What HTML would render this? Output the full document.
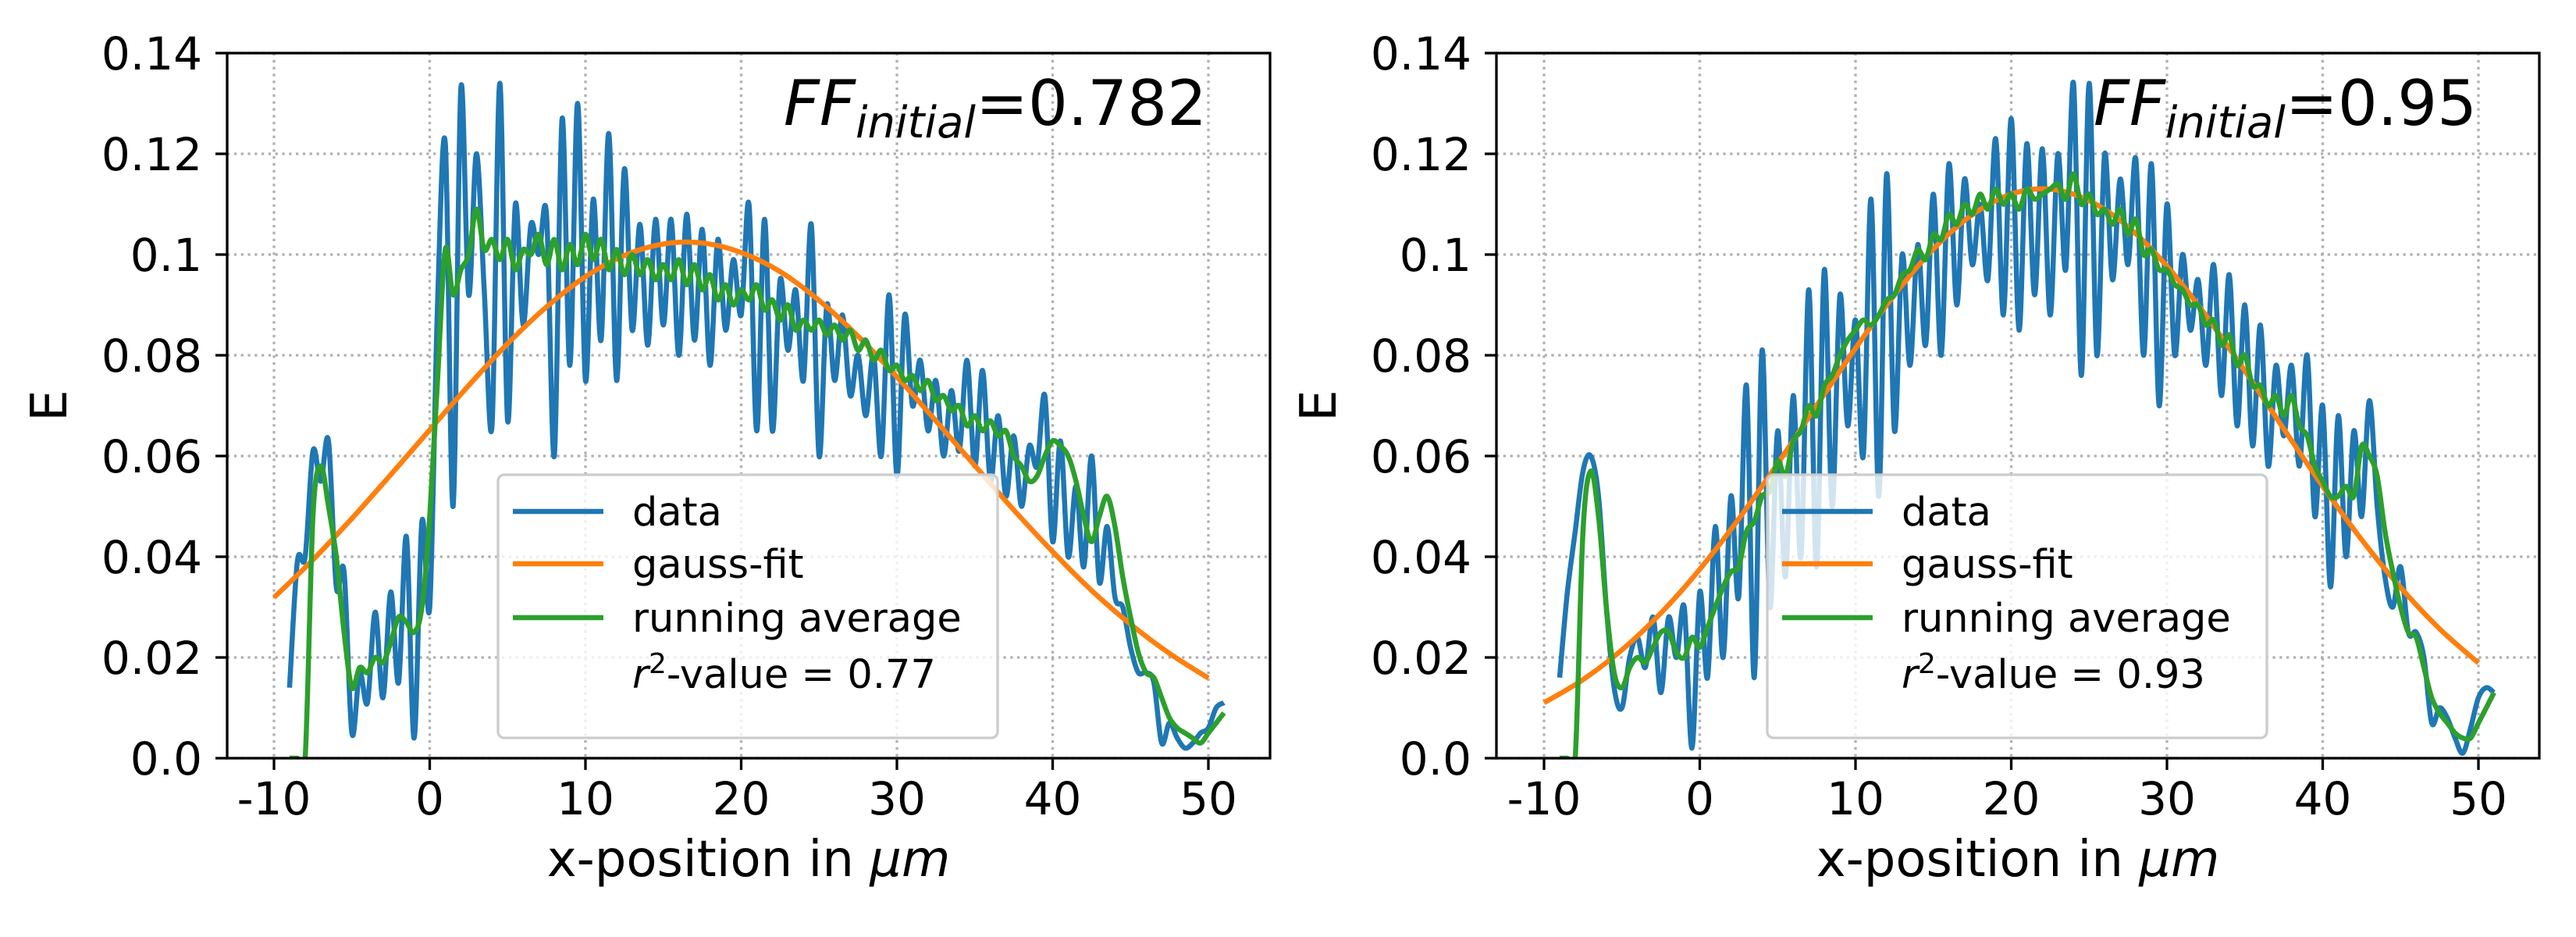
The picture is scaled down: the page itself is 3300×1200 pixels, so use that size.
<!DOCTYPE html>
<html><head><meta charset="utf-8"><style>
html,body{margin:0;padding:0;background:#fff;}
svg{display:block;font-family:"DejaVu Sans","Liberation Sans",sans-serif;}
</style></head>
<body>
<svg id="chart" width="3300" height="1200" viewBox="0 0 3300 1200" xmlns="http://www.w3.org/2000/svg"></svg>
<script>
// ---- data ----
const xTickValues = [-10, 0, 10, 20, 30, 40, 50];
const xTickLabels = ["-10", "0", "10", "20", "30", "40", "50"];
const yTickValues = [0, 0.02, 0.04, 0.06, 0.08, 0.1, 0.12, 0.14];
const yTickLabels = ["0.0", "0.02", "0.04", "0.06", "0.08", "0.1", "0.12", "0.14"];
const sampleStart = -9, sampleStep = 0.5;
const fitStart = -10, fitStep = 2.5;

const leftData = [.014,.039,.040,.061,.055,.063,.034,.037,.005,.017,.011,.029,.012,.033,.015,.044,.004,.047,.030,.090,.122,.050,.133,.092,.120,.093,.066,.134,.067,.110,.086,.106,.100,.108,.060,.127,.078,.130,.075,.111,.083,.124,.075,.117,.085,.106,.082,.107,.086,.107,.080,.108,.083,.105,.078,.103,.085,.099,.088,.110,.065,.107,.065,.095,.081,.093,.075,.106,.060,.090,.075,.088,.072,.080,.068,.080,.060,.092,.056,.088,.070,.079,.065,.075,.060,.073,.061,.079,.058,.077,.055,.068,.052,.064,.050,.062,.058,.072,.043,.063,.040,.054,.038,.060,.035,.046,.032,.030,.022,.017,.017,.015,.003,.007,.004,.002,.003,.005,.006,.010,.011];
const leftAvg = [0,0,0,.048,.058,.050,.040,.025,.014,.018,.017,.020,.019,.023,.028,.027,.025,.030,.048,.075,.101,.092,.097,.100,.109,.101,.103,.099,.103,.097,.101,.100,.104,.098,.103,.097,.102,.098,.104,.099,.103,.097,.101,.096,.100,.096,.099,.095,.098,.095,.099,.094,.098,.093,.096,.091,.094,.090,.093,.091,.094,.089,.091,.087,.090,.085,.087,.085,.087,.084,.086,.083,.085,.081,.083,.079,.081,.077,.078,.075,.076,.073,.075,.071,.072,.069,.070,.066,.068,.065,.067,.064,.065,.060,.058,.055,.056,.060,.063,.062,.060,.055,.048,.043,.048,.052,.046,.036,.028,.021,.017,.016,.012,.008,.006,.005,.004,.003,.005,.007,.009];
const leftFit = [.0319,.0394,.0476,.0563,.0652,.0740,.0823,.0896,.0956,.0998,.1021,.1023,.1004,.0966,.0909,.0838,.0757,.0670,.0581,.0493,.0410,.0333,.0266,.0208,.0159];

const rightData = [.016,.033,.045,.057,.060,.052,.030,.014,.010,.020,.024,.018,.028,.013,.028,.020,.030,.002,.033,.016,.046,.020,.052,.032,.074,.016,.081,.030,.065,.036,.072,.040,.093,.038,.097,.050,.092,.066,.087,.060,.111,.052,.116,.065,.100,.078,.102,.082,.112,.080,.118,.090,.115,.098,.110,.095,.123,.088,.127,.085,.122,.092,.121,.088,.120,.097,.134,.076,.134,.080,.120,.095,.115,.098,.119,.080,.118,.070,.110,.080,.100,.085,.095,.078,.098,.072,.096,.066,.090,.062,.086,.058,.078,.064,.078,.058,.080,.048,.070,.034,.068,.040,.065,.048,.071,.050,.036,.030,.038,.025,.025,.020,.007,.010,.008,.004,.001,.006,.012,.014,.013];
const rightAvg = [0,0,0,.045,.057,.048,.030,.017,.014,.018,.020,.019,.022,.025,.025,.021,.020,.024,.022,.026,.030,.034,.037,.038,.045,.047,.052,.053,.059,.056,.063,.065,.070,.068,.074,.076,.080,.083,.085,.087,.086,.088,.091,.092,.096,.097,.101,.099,.104,.103,.108,.106,.110,.108,.112,.109,.113,.110,.112,.109,.113,.111,.112,.113,.114,.111,.116,.110,.112,.108,.109,.106,.109,.104,.107,.100,.101,.097,.097,.094,.093,.090,.090,.086,.087,.082,.084,.078,.080,.074,.074,.070,.072,.068,.072,.066,.064,.058,.055,.052,.052,.054,.052,.062,.060,.056,.045,.037,.030,.025,.024,.018,.012,.009,.007,.005,.004,.004,.007,.010,.013];
const rightFit = [.0110,.0156,.0215,.0288,.0375,.0475,.0585,.0700,.0814,.0920,.1011,.1079,.1120,.1130,.1107,.1055,.0977,.0879,.0769,.0654,.0540,.0434,.0339,.0257,.0189];

const ffLabels = ["0.782", "0.95"];
const r2Labels = ["0.77", "0.93"];

// ---- layout ----
const NS = "http://www.w3.org/2000/svg";
const svg = document.getElementById("chart");
const panels = [
  {left:291, right:1627, x0:351, legendX:638, name:"left"},
  {left:1917, right:3253, x0:1978, legendX:2264, name:"right"}
];
const TOP = 68, BOTTOM = 971, PXU = 19.95;
const C = {data:"#1f77b4", fit:"#ff7f0e", avg:"#2ca02c"};

function el(tag, attrs, parent){
  const e = document.createElementNS(NS, tag);
  for (const k in attrs) e.setAttribute(k, attrs[k]);
  (parent || svg).appendChild(e);
  return e;
}
function sy(v){ return BOTTOM - v / 0.14 * (BOTTOM - TOP); }
function smoothPath(pts){
  let d = "M" + pts[0][0].toFixed(1) + "," + pts[0][1].toFixed(1);
  for (let i = 0; i < pts.length - 1; i++){
    const p0 = pts[Math.max(0,i-1)], p1 = pts[i], p2 = pts[i+1], p3 = pts[Math.min(pts.length-1,i+2)];
    const c1x = p1[0] + (p2[0]-p0[0])/6, c1y = p1[1] + (p2[1]-p0[1])/6;
    const c2x = p2[0] - (p3[0]-p1[0])/6, c2y = p2[1] - (p3[1]-p1[1])/6;
    d += "C" + c1x.toFixed(1)+","+c1y.toFixed(1)+" "+c2x.toFixed(1)+","+c2y.toFixed(1)+" "+p2[0].toFixed(1)+","+p2[1].toFixed(1);
  }
  return d;
}

const datasets = [
  {data:leftData, avg:leftAvg, fit:leftFit},
  {data:rightData, avg:rightAvg, fit:rightFit}
];

panels.forEach((P, pi) => {
  const sx = v => P.x0 + (v + 10) * PXU;
  const g = el("g", {});
  
  
  const clipId = "clip" + pi;
  const cp = el("clipPath", {id:clipId}, g);
  el("rect", {x:P.left, y:TOP, width:P.right-P.left, height:BOTTOM-TOP}, cp);

  xTickValues.forEach(v => {
    const l = el("line", {x1:sx(v), x2:sx(v), y1:TOP, y2:BOTTOM, stroke:"#b0b0b0", "stroke-width":3.3, "stroke-dasharray":"3.3,5.5"}, g);
    
    
  });
  yTickValues.forEach(v => {
    const l = el("line", {x1:P.left, x2:P.right, y1:sy(v), y2:sy(v), stroke:"#b0b0b0", "stroke-width":3.3, "stroke-dasharray":"3.3,5.5"}, g);
    
    
  });

  const D = datasets[pi];
  const series = [
    {arr:D.data, start:sampleStart, step:sampleStep, color:C.data, name:"data-line"},
    {arr:D.fit, start:fitStart, step:fitStep, color:C.fit, name:"gauss-fit-line"},
    {arr:D.avg, start:sampleStart, step:sampleStep, color:C.avg, name:"running-average-line"}
  ];
  series.forEach(s => {
    const pts = s.arr.map((v, i) => [sx(s.start + i * s.step), sy(v)]);
    const p = el("path", {d:smoothPath(pts), fill:"none", stroke:s.color, "stroke-width":6.5, "stroke-linejoin":"round", "clip-path":"url(#"+clipId+")"}, g);
    
    
  });

  const sp = el("rect", {x:P.left, y:TOP, width:P.right-P.left, height:BOTTOM-TOP, fill:"none", stroke:"#000", "stroke-width":3.3}, g);
  
  

  xTickValues.forEach((v, i) => {
    el("line", {x1:sx(v), x2:sx(v), y1:BOTTOM, y2:BOTTOM+15, stroke:"#000", "stroke-width":3.3}, g);
    const t = el("text", {x:sx(v), y:BOTTOM+72, "font-size":58, "text-anchor":"middle"}, g);
    t.textContent = xTickLabels[i];
    
    
  });
  yTickValues.forEach((v, i) => {
    el("line", {x1:P.left-15, x2:P.left, y1:sy(v), y2:sy(v), stroke:"#000", "stroke-width":3.3}, g);
    const t = el("text", {x:P.left-32, y:sy(v)+21, "font-size":58, "text-anchor":"end"}, g);
    t.textContent = yTickLabels[i];
    
    
  });

  const xl = el("text", {x:(P.left+P.right)/2, y:1122, "font-size":64, "text-anchor":"middle"}, g);
  xl.innerHTML = 'x-position in <tspan font-style="italic">μm</tspan>';
  
  
  const yx = P.left - 206;
  const yl = el("text", {x:yx, y:(TOP+BOTTOM)/2, "font-size":64, "text-anchor":"middle", transform:"rotate(-90 "+yx+" "+((TOP+BOTTOM)/2)+")"}, g);
  yl.textContent = "E";
  
  

  const ff = el("text", {x:sx(50)-2, y:160, "font-size":80, "text-anchor":"end"}, g);
  ff.innerHTML = '<tspan font-style="italic">FF</tspan><tspan font-style="italic" font-size="56" dy="16">initial</tspan><tspan dy="-16">=' + ffLabels[pi] + '</tspan>';
  
  

  const lg = el("g", {}, g);
  
  
  el("rect", {x:P.legendX, y:608, width:640, height:337, rx:8, fill:"#fff", "fill-opacity":0.8, stroke:"#cccccc", "stroke-width":3.3}, lg);
  const entries = [["data", C.data], ["gauss-fit", C.fit], ["running average", C.avg]];
  const rowY = [655, 722, 791];
  entries.forEach((e, i) => {
    const ent = el("g", {}, lg);
    
    
    el("line", {x1:P.legendX+19, x2:P.legendX+135, y1:rowY[i], y2:rowY[i], stroke:e[1], "stroke-width":6.5}, ent);
    const t = el("text", {x:P.legendX+172, y:rowY[i]+18, "font-size":51}, ent);
    t.textContent = e[0];
  });
  const r2 = el("text", {x:P.legendX+172, y:863+18, "font-size":51}, lg);
  r2.innerHTML = '<tspan font-style="italic">r</tspan><tspan font-size="36" dy="-19">2</tspan><tspan dy="19">-value = ' + r2Labels[pi] + '</tspan>';
  
  
});
</script>
</body></html>
